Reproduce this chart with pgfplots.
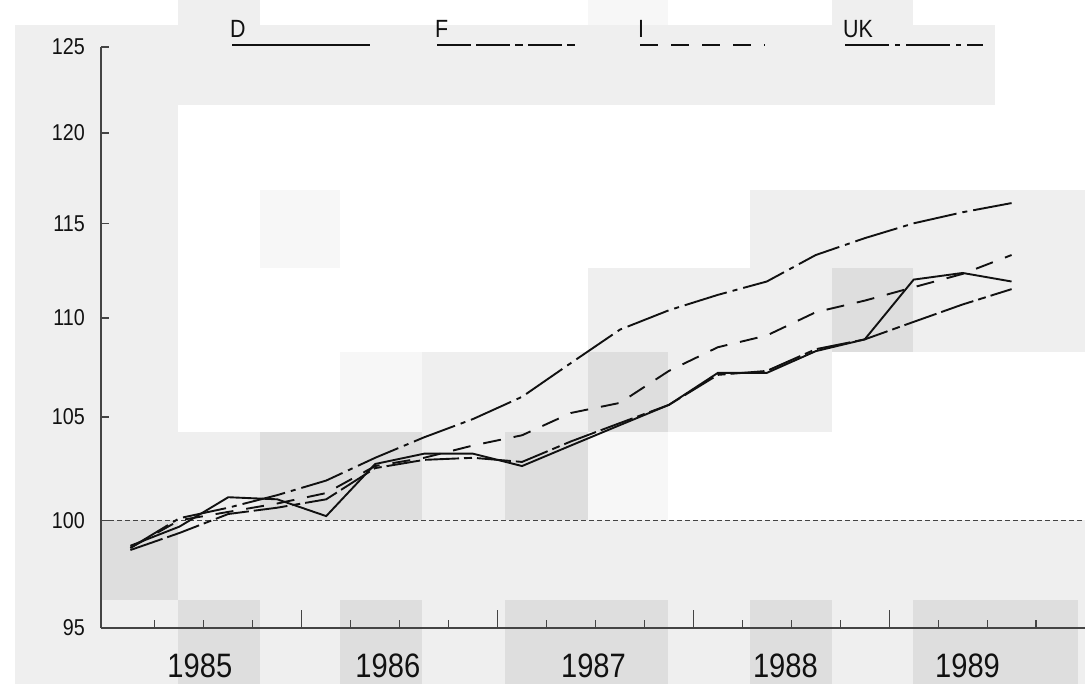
\documentclass[border=0pt]{standalone}
\usepackage{fontspec}
\setmainfont{Liberation Sans}[FakeStretch=0.86]
\usepackage{pgfplots}
\usepackage{pgfplotstable}
\pgfplotsset{compat=1.18}

\definecolor{lt}{HTML}{EFEFEF}
\definecolor{dk}{HTML}{DEDEDE}
\definecolor{vl}{HTML}{F7F7F7}
\definecolor{ink}{HTML}{111111}
\definecolor{axisgray}{HTML}{444444}

% quarterly index, 1985 = 100
\pgfplotstableread{
t        D      F      I      UK
1985.125 98.8   98.6   98.7   98.7
1985.375 99.7   99.4   100.0  100.1
1985.625 101.1  100.3  100.4  100.6
1985.875 101.0  100.6  100.8  101.2
1986.125 100.2  101.0  101.3  101.9
1986.375 102.7  102.5  102.6  103.0
1986.625 103.2  102.9  103.0  104.0
1986.875 103.2  103.0  103.6  104.9
1987.125 102.6  102.8  104.1  106.0
1987.375 103.6  103.8  105.2  107.7
1987.625 104.6  104.7  105.7  109.4
1987.875 105.6  105.6  107.3  110.4
1988.125 107.2  107.1  108.5  111.2
1988.375 107.2  107.3  109.1  111.9
1988.625 108.3  108.4  110.3  113.3
1988.875 108.9  108.9  110.9  114.2
1989.125 112.0  109.8  111.6  115.0
1989.375 112.35 110.7  112.3  115.6
1989.625 111.9  111.5  113.3  116.1
}\index

\tikzset{
  sD/.style={ink, line width=1.9bp},
  sF/.style={ink, line width=1.9bp, dash pattern=on 34bp off 5bp on 34bp off 5bp on 8bp off 5bp},
  sI/.style={ink, line width=1.9bp, dash pattern=on 18bp off 13bp},
  sUK/.style={ink, line width=1.9bp, dash pattern=on 44bp off 6bp on 5bp off 6bp},
}
\newcommand\blk[5]{\fill[#5] (#1,684-#2) rectangle (#3,684-#4);}

\begin{document}
\begin{tikzpicture}
\useasboundingbox (0,0) rectangle (1085bp,684bp);
\begin{scope}[x=1bp,y=1bp]
% light scan blocks behind the chart
\blk{178}{0}{260}{25}{lt}
\blk{588}{0}{668}{25}{vl}
\blk{832}{0}{913}{25}{lt}
\blk{15}{25}{995}{105}{lt}
\blk{15}{105}{178}{684}{lt}
\blk{260}{190}{340}{268}{vl}
\blk{750}{190}{1085}{352}{lt}
\blk{588}{268}{750}{352}{lt}
\blk{832}{268}{913}{352}{dk}
\blk{340}{352}{422}{432}{vl}
\blk{422}{352}{588}{432}{lt}
\blk{588}{352}{668}{432}{dk}
\blk{668}{352}{832}{432}{lt}
\blk{178}{432}{260}{520}{lt}
\blk{260}{432}{422}{520}{dk}
\blk{422}{432}{505}{520}{lt}
\blk{505}{432}{588}{520}{dk}
\blk{588}{432}{668}{520}{vl}
\blk{15}{520}{1085}{684}{lt}
\blk{100}{520}{178}{600}{dk}
\blk{178}{600}{260}{684}{dk}
\blk{340}{600}{422}{684}{dk}
\blk{505}{600}{668}{684}{dk}
\blk{750}{600}{832}{684}{dk}
\blk{913}{600}{1078}{684}{dk}
\end{scope}

\begin{axis}[
  at={(101bp,56bp)}, anchor=south west,
  scale only axis, width=984bp, height=581bp,
  xmin=1984.975, xmax=1990, ymin=95, ymax=125,
  y coord trafo/.code={\pgfmathparse{21.97*(#1-95)-0.0867*(#1-95)*(#1-95)}},
  axis x line=bottom, axis y line=left,
  axis line style={-, draw=axisgray, line width=1.6bp},
  tick align=inside,
  major tick length=8bp, minor tick length=8bp,
  tick style={draw=axisgray, line width=1.2bp},
  xtick={1985.48,1986.44,1987.49,1988.47,1989.40},
  xticklabels={1985,1986,1987,1988,1989},
  xtick style={draw=none},
  minor xtick={1985.25,1985.5,1985.75,1986.25,1986.5,1986.75,1987.25,1987.5,1987.75,1988.25,1988.5,1988.75,1989.25,1989.5,1989.75},
  minor x tick style={draw=axisgray, line width=1.2bp},
  extra x ticks={1986,1987,1988,1989},
  extra x tick labels={},
  extra x tick style={major tick length=18bp, xtick style={draw=axisgray, line width=1.2bp}},
  ytick={95,100,105,110,115,120,125},
  yticklabels={95,100,105,110,115,120,125},
  xticklabel style={font=\fontsize{34}{34}\selectfont, text=ink, inner sep=0pt, anchor=north, yshift=-26bp},
  yticklabel style={font=\fontsize{23}{23}\selectfont, text=ink, inner sep=0pt, anchor=east, xshift=-16bp},
  clip=false,
]
\addplot[axisgray, line width=1.2bp, dash pattern=on 5bp off 3bp, forget plot] coordinates {(1984.975,100) (1990,100)};
\addplot[sF] table[x=t, y=F] {\index};
\addplot[sI] table[x=t, y=I] {\index};
\addplot[sUK] table[x=t, y=UK] {\index};
\addplot[sD] table[x=t, y=D] {\index};
\end{axis}

\begin{scope}[x=1bp,y=1bp]
% legend above the plot
\node[anchor=base west, inner sep=0pt, font=\fontsize{25}{25}\selectfont, text=ink] at (230,684-38) {D};
\draw[sD] (232,684-45) -- (370,684-45);
\node[anchor=base west, inner sep=0pt, font=\fontsize{25}{25}\selectfont, text=ink] at (435,684-38) {F};
\draw[sF] (437,684-45) -- (575,684-45);
\node[anchor=base west, inner sep=0pt, font=\fontsize{25}{25}\selectfont, text=ink] at (638,684-38) {I};
\draw[sI] (640,684-45) -- (765,684-45);
\node[anchor=base west, inner sep=0pt, font=\fontsize{25}{25}\selectfont, text=ink] at (843,684-38) {UK};
\draw[sUK] (845,684-45) -- (983,684-45);
\end{scope}
\end{tikzpicture}
\end{document}
